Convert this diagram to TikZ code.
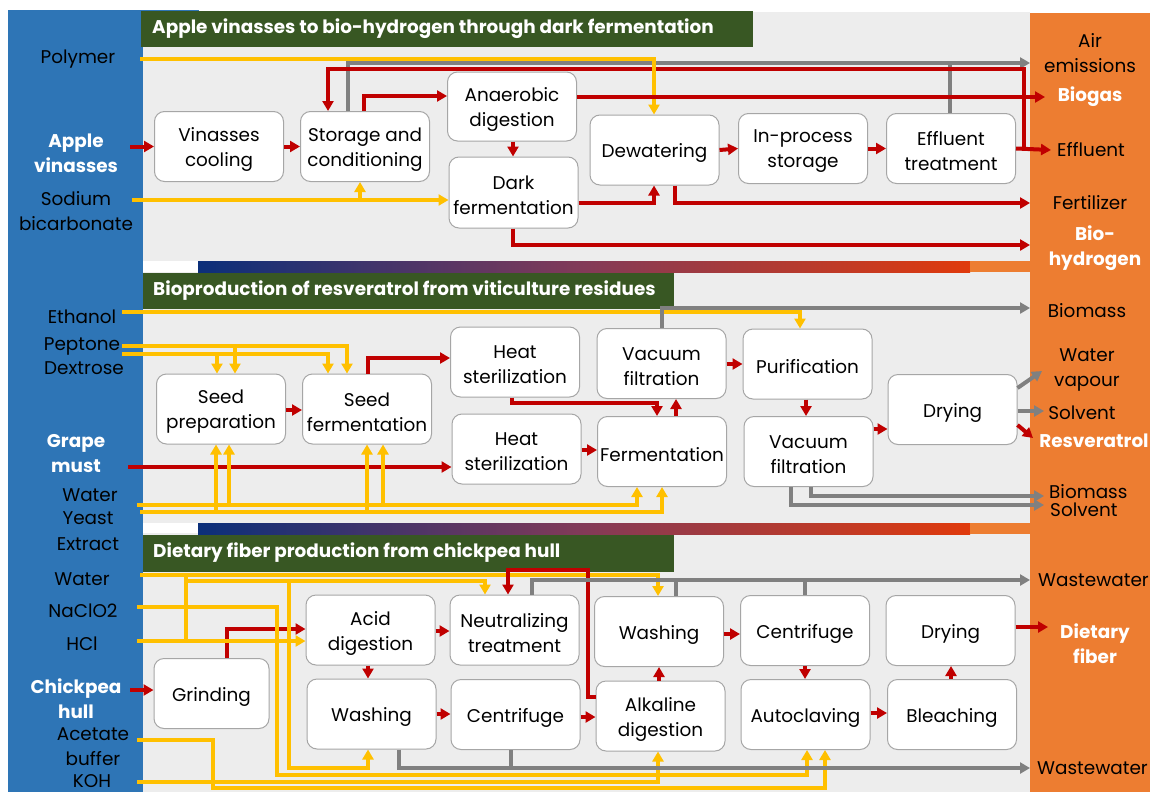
\documentclass[tikz,border=0pt]{standalone}
\usepackage{fontspec}
\setmainfont{Poppins}
\usetikzlibrary{arrows.meta}
\definecolor{redc}{HTML}{C00000}
\definecolor{yelc}{HTML}{FFC000}
\definecolor{grayc}{HTML}{808080}
\definecolor{bluec}{HTML}{2E75B6}
\definecolor{orangec}{HTML}{ED7D31}
\definecolor{greenc}{HTML}{385723}
\definecolor{panelc}{HTML}{EDEDED}
\definecolor{boxc}{HTML}{A6A6A6}
\definecolor{navyc}{HTML}{0B2F7A}
\definecolor{purpc}{HTML}{833A58}
\definecolor{rorc}{HTML}{E03A0C}
\newcommand{\bxfont}{\fontsize{18.4}{25}\selectfont}
\newcommand{\pbx}[4][]{\node[pbox,#1] (#2) at (#3) {};
  \node[btxt] (#2-t) at ([yshift=-3pt]#2.center) {#4};}
\begin{document}
\begin{tikzpicture}[x=1pt,y=-1pt,
  pbox/.style={draw=boxc, line width=1pt, fill=white, rounded corners=10pt, minimum width=129pt, minimum height=70pt, inner sep=0pt},
  btxt/.style={align=center, font=\bxfont, text=black, inner sep=0pt},
  lbl/.style={align=center, font=\bxfont, text=black, inner sep=0pt},
  wlbl/.style={align=center, font=\bxfont\bfseries, text=white, inner sep=0pt},
  hdr/.style={anchor=west, font=\fontsize{18.4}{20}\selectfont\bfseries, text=white, inner sep=0pt},
  tip/.style={-{Triangle[length=10pt,width=11pt]}},
  rl/.style={draw=redc, line width=4pt},
  yl/.style={draw=yelc, line width=4pt},
  gl/.style={draw=grayc, line width=4pt},
  ra/.style={rl, tip}, ya/.style={yl, tip}, ga/.style={gl, tip}]
\useasboundingbox (0,0) rectangle (1150,792);
\fill[white] (0,0) rectangle (1150,792);
% panels
\fill[bluec] (8,10) rectangle (143,792);
\fill[bluec] (143,10) rectangle (199,12);
\fill[orangec] (1030,13) rectangle (1150,792);
\fill[panelc] (143,12) rectangle (1030,261);
\fill[panelc] (143,272) rectangle (1030,523);
\fill[panelc] (143,533) rectangle (1030,792);
\shade[left color=navyc, right color=rorc, middle color=purpc] (198,261) rectangle (970,272);
\fill[orangec] (970,261) rectangle (1030,272);
\shade[left color=navyc, right color=rorc, middle color=purpc] (198,523) rectangle (970,534);
\fill[orangec] (970,523) rectangle (1030,534);
\fill[greenc] (141,11) rectangle (753,47);
\fill[greenc] (143,273) rectangle (674,309);
\fill[greenc] (143,535) rectangle (674,572);
\node[hdr] (h1) at (152,29) {Apple vinasses to bio-hydrogen through dark fermentation};
\node[hdr] (h2) at (153,291) {Bioproduction of resveratrol from viticulture residues};
\node[hdr] (h3) at (153,553) {Dietary fiber production from chickpea hull};
% left labels
\node[lbl] (lpoly) at (78,59) {Polymer};
\node[wlbl] (lapple) at (76,153) {Apple\\vinasses};
\node[lbl] (lsod) at (76,211) {Sodium\\bicarbonate};
\node[lbl] (leth) at (82,317) {Ethanol};
\node[lbl] (lpep) at (82,346) {Peptone};
\node[lbl] (ldex) at (84,368) {Dextrose};
\node[wlbl] (lgrape) at (76,454) {Grape\\must};
\node[lbl] (lwat1) at (90,495) {Water};
\node[lbl] (lyeast) at (88,518) {Yeast};
\node[lbl] (lext) at (88,544) {Extract};
\node[lbl] (lwat2) at (82,579) {Water};
\node[lbl] (lnac) at (83,611) {NaClO2};
\node[lbl] (lhcl) at (82,644) {HCl};
\node[wlbl] (lchick) at (76,699) {Chickpea\\hull};
\node[lbl] (lacet) at (93,747) {Acetate\\buffer};
\node[lbl] (lkoh) at (92,781) {KOH};
% right labels
\node[lbl] (rair) at (1090,53) {Air\\emissions};
\node[wlbl] (rbiogas) at (1090,97) {Biogas};
\node[lbl] (reff) at (1091,150) {Effluent};
\node[lbl] (rfert) at (1090,203) {Fertilizer};
\node[wlbl] (rbioh) at (1095,248) {Bio-\\hydrogen};
\node[lbl] (rbiom1) at (1087,311) {Biomass};
\node[lbl] (rwv) at (1087,370) {Water\\vapour};
\node[lbl] (rsol1) at (1082,413) {Solvent};
\node[wlbl] (rres) at (1094,441) {Resveratrol};
\node[lbl, anchor=west] (rbiom2) at (1049,492) {Biomass};
\node[lbl, anchor=west] (rsol2) at (1050,510) {Solvent};
\node[lbl, anchor=west] (rww1) at (1038,580) {Wastewater};
\node[wlbl] (rdf) at (1095,644) {Dietary\\fiber};
\node[lbl, anchor=west] (rww2) at (1037,768) {Wastewater};
% boxes top
\pbx{vc}{219,146.5}{Vinasses\\cooling}
\pbx{sc}{365,146.5}{Storage and\\conditioning}
\pbx[minimum height=69pt]{ad}{512,106.5}{Anaerobic\\digestion}
\pbx[minimum height=71pt]{df}{513.5,192.5}{Dark\\fermentation}
\pbx{dw}{654.5,150}{Dewatering}
\pbx{ip}{803,148.5}{In-process\\storage}
\pbx{et}{951,148.5}{Effluent\\treatment}
% boxes middle
\pbx{sp}{221,409}{Seed\\preparation}
\pbx{sf}{367,409}{Seed\\fermentation}
\pbx{hs1}{515,362}{Heat\\sterilization}
\pbx{hs2}{516.5,449}{Heat\\sterilization}
\pbx{vf1}{661.5,363.5}{Vacuum\\filtration}
\pbx{fe}{662,451.5}{Fermentation}
\pbx{pu}{807.5,364}{Purification}
\pbx{vf2}{808.5,451.5}{Vacuum\\filtration}
\pbx{dr}{952.5,409.5}{Drying}
% boxes bottom
\pbx[minimum width=115pt]{gr}{211.5,693.5}{Grinding}
\pbx{acd}{370.5,630}{Acid\\digestion}
\pbx{wa1}{371.5,714}{Washing}
\pbx{nt}{514.5,630}{Neutralizing\\treatment}
\pbx{ce1}{515.5,714.5}{Centrifuge}
\pbx{wa2}{659,631.5}{Washing}
\pbx{al}{660.5,716}{Alkaline\\digestion}
\pbx{ce2}{805,630.5}{Centrifuge}
\pbx{au}{805.5,714.5}{Autoclaving}
\pbx{dr2}{950.5,630.5}{Drying}
\pbx{bl}{952,714.5}{Bleaching}
% ---------- top connectors
\draw[ra] (vc.west -| 130,0) -- (vc.west);
\draw[ra] (vc.east) -- (sc.west);
\draw[ra] (sc.north -| 364,0) |- (ad.west |- 0,96);
\draw[ga] (sc.north -| 348,0) |- (1030,63);
\draw[gl] (et.north -| 950,0) -- (950,63);
\draw[ra] (et.east) -- (1051,150);
\draw[ra] (1024,150) -- (1024,69) -- (328,69) -- (sc.north -| 328,0);
\draw[ya] (lpoly.east -| 140,58) -| (dw.north -| 654,0);
\draw[ra] (ad.east |- 0,97) -- (1045,97);
\draw[ra] (ad.south -| 513,0) -- (df.north -| 513,0);
\draw[ya] (132,200) -- (df.west |- 0,200);
\draw[ya] (360,200) -- (sc.south -| 360,0);
\draw[ra] (df.east |- 0,203) -| (dw.south -| 654,0);
\draw[ra] (dw.south -| 675,0) |- (1030,203);
\draw[ra] (df.south -| 513,0) |- (1030,245);
\draw[ra] (dw.east) -- (ip.west);
\draw[ra] (ip.east) -- (et.west);
% ---------- middle connectors
\draw[ya] (122,312) -| (pu.north -| 800,0);
\draw[ga] (vf1.north -| 662,0) |- (1030,308);
\draw[ya] (122,346) -| (sf.north -| 347,0);
\draw[ya] (235,346) -- (sp.north -| 235,0);
\draw[ya] (122,354) -| (sf.north -| 328,0);
\draw[ya] (217,354) -- (sp.north -| 217,0);
\draw[ra] (sp.east |- 0,410) -- (sf.west |- 0,410);
\draw[ra] (sf.north -| 368,0) |- (hs1.west |- 0,358);
\draw[ra] (128,467) -- (hs2.west |- 0,467);
\draw[ra] (hs1.south -| 512,0) -- (512,403) -| (fe.north -| 657,0);
\draw[ra] (fe.north -| 676,0) -- (vf1.south -| 676,0);
\draw[ra] (hs2.east |- 0,450) -- (fe.west |- 0,450);
\draw[ra] (vf1.east |- 0,364) -- (pu.west |- 0,364);
\draw[ra] (pu.south -| 806,0) -- (vf2.north -| 806,0);
\draw[ra] (vf2.east |- 0,429) -- (dr.west |- 0,429);
\draw[ga] (dr.east |- 0,388) -- (1042,371);
\draw[ga] (dr.east |- 0,411) -- (1044,411);
\draw[ra] (dr.east |- 0,425) -- (1033,438);
\draw[ya] (137,505) -| (fe.south -| 637,0);
\draw[ya] (229,505) -- (sp.south -| 229,0);
\draw[ya] (383,505) -- (sf.south -| 383,0);
\draw[ya] (140,512) -| (fe.south -| 662,0);
\draw[ya] (216,512) -- (sp.south -| 216,0);
\draw[ya] (367,512) -- (sf.south -| 367,0);
\draw[ga] (vf2.south -| 811,0) |- (1044,496);
\draw[ga] (vf2.south -| 791,0) |- (1044,505);
% ---------- bottom connectors
\draw[ra] (130,690) -- (gr.west |- 0,690);
\draw[ra] (gr.north -| 227,0) |- (acd.west |- 0,629);
\draw[ya] (137,641) -- (acd.west |- 0,641);
\draw[ya] (140,575) -| (wa2.north -| 658,0);
\draw[yl] (186,575) -- (186,641);
\draw[ya] (186,581) -| (nt.north -| 485,0);
\draw[ya] (289,581) -- (289,768) -| (wa1.south -| 368,0);
\draw[ya] (137,607) -- (277,607) -- (277,775) -| (au.south -| 807,0);
\draw[ya] (137,740) -- (213,740) -- (213,788) -| (au.south -| 825,0);
\draw[ya] (137,782) -| (al.south -| 658,0);
\draw[ra] (al.west |- 0,697) -- (588,697) -- (588,570) -| (nt.north -| 508,0);
\draw[ra] (acd.east |- 0,631) -- (nt.west |- 0,631);
\draw[ra] (acd.south -| 368,0) -- (wa1.north -| 368,0);
\draw[ra] (wa1.east |- 0,714) -- (ce1.west |- 0,714);
\draw[ra] (ce1.east |- 0,717) -- (al.west |- 0,717);
\draw[ra] (al.north -| 659,0) -- (wa2.south -| 659,0);
\draw[ra] (wa2.east |- 0,634) -- (ce2.west |- 0,634);
\draw[ra] (ce2.south -| 805,0) -- (au.north -| 805,0);
\draw[ra] (au.east |- 0,713) -- (bl.west |- 0,713);
\draw[ra] (bl.north -| 951,0) -- (dr2.south -| 951,0);
\draw[ra] (dr2.east |- 0,627) -- (1048,627);
\draw[ga] (nt.north -| 532,0) |- (1030,580);
\draw[gl] (wa2.north -| 676,0) -- (676,580);
\draw[gl] (ce2.north -| 805,0) -- (805,580);
\draw[ga] (wa1.south -| 399,0) |- (1030,768);
\draw[gl] (ce1.south -| 511,0) -- (511,768);
\end{tikzpicture}
\end{document}
